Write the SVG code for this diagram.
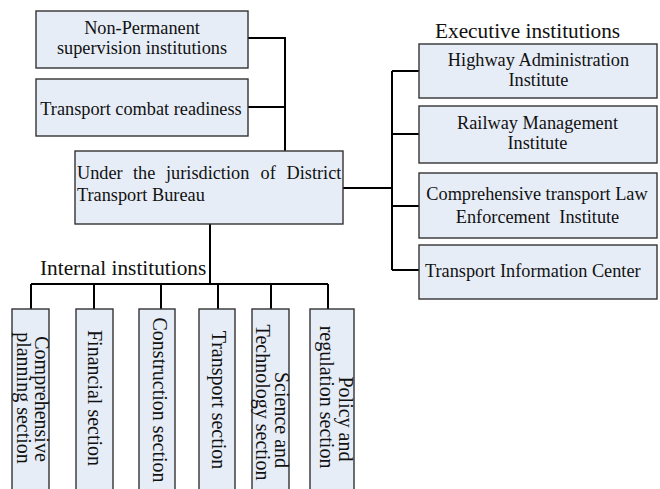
<svg xmlns="http://www.w3.org/2000/svg" width="660" height="489" viewBox="0 0 660 489">
<style>
.box{fill:#E7EDF7;stroke:#333;stroke-width:1.4}
.t{font-family:"Liberation Serif","Times New Roman",serif;font-size:18.3px;fill:#111}
.c{text-anchor:middle}
.h{font-family:"Liberation Serif","Times New Roman",serif;font-size:21.3px;fill:#111}
.v{font-family:"Liberation Serif","Times New Roman",serif;font-size:20px;fill:#111;text-anchor:middle}
.ln{fill:none;stroke:#000;stroke-width:2}
</style>
<rect width="660" height="489" fill="#fff"/>
<g id="connectors">
<path class="ln" d="M248,38H285V151M248,107H285"/>
<path class="ln" d="M343,188H392M392,71V270M392,71H419M392,134H419M392,206H419M392,270H419"/>
<path class="ln" d="M210,224V284M31,284H328M31,284V309M94,284V309M161,284V309M218,284V309M271,284V309M328,284V309"/>
</g>
<g id="non-permanent">
<rect class="box" x="36" y="11" width="212" height="57"/>
<text class="t c" x="142" y="34">Non-Permanent</text>
<text class="t c" x="142" y="54">supervision institutions</text>
</g>
<g id="combat-readiness">
<rect class="box" x="36" y="79" width="212" height="57"/>
<text class="t c" x="141" y="115">Transport combat readiness</text>
</g>
<g id="bureau">
<rect class="box" x="75" y="151" width="268" height="73"/>
<text class="t" y="179"><tspan x="77">Under</tspan><tspan x="133">the</tspan><tspan x="166">jurisdiction</tspan><tspan x="260.5">of</tspan><tspan x="286.5">District</tspan></text>
<text class="t" x="77" y="201">Transport Bureau</text>
</g>
<text class="h" x="435" y="38">Executive institutions</text>
<g id="highway">
<rect class="box" x="419" y="44" width="238" height="54"/>
<text class="t c" x="538.5" y="66">Highway Administration</text>
<text class="t c" x="538.5" y="86">Institute</text>
</g>
<g id="railway">
<rect class="box" x="419" y="106" width="238" height="57"/>
<text class="t c" x="537.5" y="129">Railway Management</text>
<text class="t c" x="537.5" y="149">Institute</text>
</g>
<g id="law-enforcement">
<rect class="box" x="419" y="173" width="238" height="65"/>
<text class="t c" x="537" y="200">Comprehensive transport Law</text>
<text class="t c" x="537.5" y="223" xml:space="preserve">Enforcement  Institute</text>
</g>
<g id="info-center">
<rect class="box" x="419" y="245" width="238" height="54"/>
<text class="t" x="425" y="277">Transport Information Center</text>
</g>
<text class="h" x="40" y="275">Internal institutions</text>
<g id="planning">
<rect class="box" x="12" y="309" width="37" height="185"/>
<text class="v" transform="translate(35,399) rotate(90)"><tspan x="0" y="0">Comprehensive</tspan><tspan x="-1" y="18.5">planning section</tspan></text>
</g>
<g id="financial">
<rect class="box" x="76" y="309" width="37" height="185"/>
<text class="v" transform="translate(88,398) rotate(90)">Financial section</text>
</g>
<g id="construction">
<rect class="box" x="139" y="309" width="36" height="185"/>
<text class="v" transform="translate(153,400) rotate(90)">Construction section</text>
</g>
<g id="transport">
<rect class="box" x="199" y="309" width="36" height="185"/>
<text class="v" transform="translate(212,400) rotate(90)">Transport section</text>
</g>
<g id="science">
<rect class="box" x="252" y="309" width="37" height="185"/>
<text class="v" transform="translate(275,420) rotate(90)"><tspan x="0" y="0">Science and</tspan><tspan x="-17.5" y="19">Technology section</tspan></text>
</g>
<g id="policy">
<rect class="box" x="310" y="309" width="44" height="185"/>
<text class="v" transform="translate(338.5,419) rotate(90)"><tspan x="0" y="0">Policy and</tspan><tspan x="-22" y="19">regulation section</tspan></text>
</g>
</svg>
